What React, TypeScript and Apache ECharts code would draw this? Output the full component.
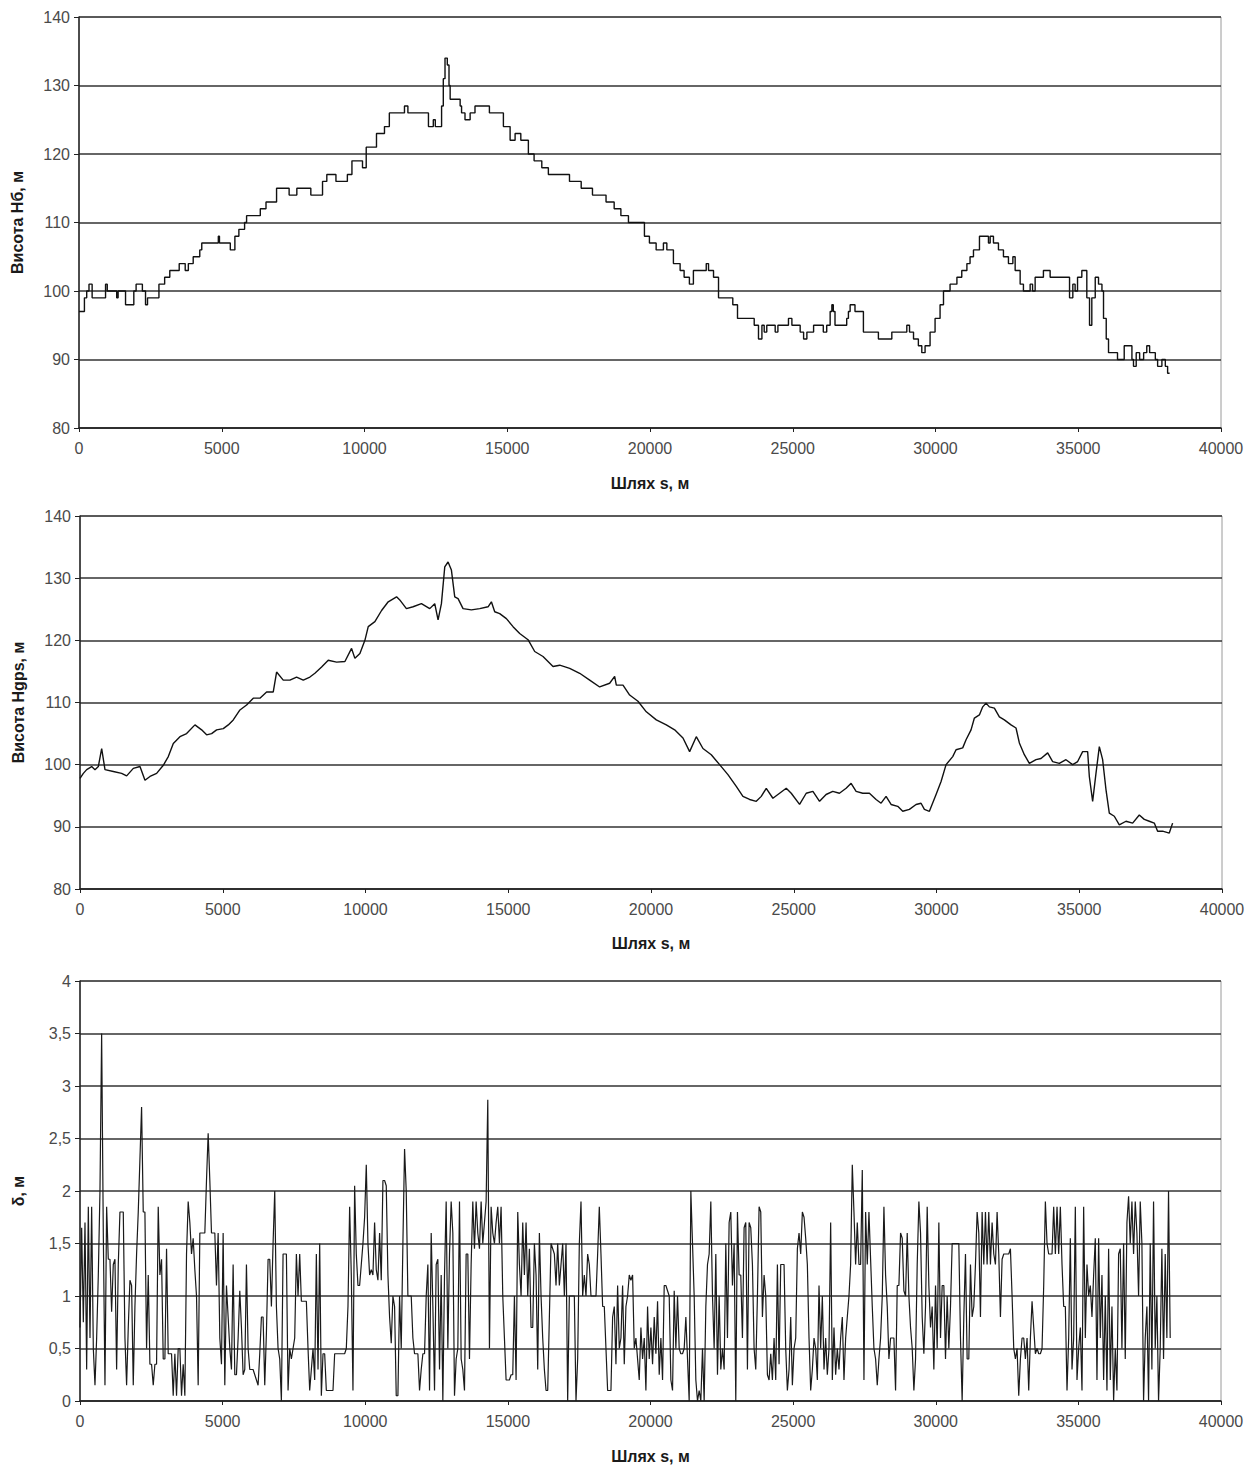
import React, { useEffect, useRef } from "react";
import * as echarts from "echarts";

// ---- Data ----
const distanceTicks = [0, 5000, 10000, 15000, 20000, 25000, 30000, 35000, 40000];

// Height from the map, Нб (m): [distance s, height] — step profile
const hbProfile: [number, number][] = [
  [0, 97], [190, 99], [270, 100], [350, 101], [460, 99], [930, 101], [990, 100], [1320, 99], [1370, 100],
  [1630, 98], [1920, 100], [2000, 101], [2220, 100], [2330, 98], [2400, 99], [2800, 101], [3000, 102],
  [3180, 103], [3510, 104], [3720, 103], [3830, 104], [4000, 105], [4230, 106], [4300, 107], [4880, 108],
  [4920, 107], [5300, 106], [5460, 108], [5600, 109], [5800, 110], [5870, 111], [6350, 112], [6550, 113],
  [6920, 115], [7360, 114], [7630, 115], [8120, 114], [8530, 116], [8680, 117], [9000, 116], [9400, 117],
  [9560, 119], [9930, 118], [10060, 121], [10420, 123], [10700, 124], [10870, 126], [11400, 127], [11520, 126],
  [12240, 124], [12410, 125], [12480, 124], [12700, 127], [12760, 131], [12820, 134], [12900, 133],
  [12960, 130], [13000, 128], [13350, 127], [13400, 126], [13520, 125], [13700, 126], [13870, 127],
  [14375, 126], [14865, 124], [15100, 122], [15275, 123], [15475, 122], [15740, 120], [15940, 119],
  [16210, 118], [16440, 117], [17180, 116], [17590, 115], [17985, 114], [18460, 113], [18745, 112],
  [18980, 111], [19245, 110], [19805, 108], [19980, 107], [20215, 106], [20470, 107], [20590, 106],
  [20820, 104], [21055, 103], [21195, 102], [21380, 101], [21520, 103], [21970, 104], [22050, 103],
  [22225, 102], [22400, 99], [22900, 98], [23065, 96], [23650, 95], [23800, 93], [23920, 95], [24000, 94],
  [24090, 95], [24385, 94], [24480, 95], [24850, 96], [24970, 95], [25260, 94], [25380, 93], [25495, 94],
  [25730, 95], [26070, 94], [26190, 95], [26310, 97], [26370, 98], [26420, 97], [26480, 95], [26890, 96],
  [26950, 97], [27010, 98], [27180, 97], [27475, 94], [28000, 93], [28470, 94], [28995, 95], [29090, 94],
  [29230, 93], [29400, 92], [29520, 91], [29635, 92], [29810, 94], [29985, 96], [30160, 98], [30280, 100],
  [30510, 101], [30750, 102], [30920, 103], [31100, 104], [31210, 105], [31330, 106], [31540, 108],
  [31855, 107], [31915, 108], [32030, 107], [32205, 106], [32380, 105], [32555, 104], [32710, 105],
  [32790, 103], [32965, 101], [33080, 100], [33315, 101], [33400, 100], [33490, 102], [33780, 103],
  [34015, 102], [34695, 99], [34810, 101], [34890, 100], [34975, 102], [35125, 103], [35300, 99],
  [35395, 95], [35475, 99], [35595, 102], [35710, 101], [35830, 100], [35885, 96], [35980, 93], [36060, 91],
  [36375, 90], [36610, 92], [36880, 90], [36935, 89], [37030, 91], [37150, 90], [37290, 91], [37400, 92],
  [37500, 91], [37700, 90], [37780, 89], [37930, 90], [38050, 89], [38130, 88], [38200, 88],
];

// GPS height, Hgps (m): [distance s, height]
const hgpsProfile: [number, number][] = [
  [0, 97.8], [117, 98.6], [234, 99.2], [409, 99.7], [525, 99.2], [642, 99.7], [759, 102.6], [875, 99.2],
  [1167, 98.9], [1459, 98.6], [1634, 98.2], [1867, 99.4], [2101, 99.7], [2276, 97.5], [2451, 98.1],
  [2684, 98.6], [2918, 99.9], [3093, 101.3], [3268, 103.4], [3501, 104.5], [3734, 105.0], [4026, 106.4],
  [4260, 105.6], [4435, 104.8], [4610, 105.0], [4785, 105.6], [5018, 105.8], [5193, 106.4], [5368, 107.2],
  [5602, 108.8], [5835, 109.6], [6069, 110.7], [6302, 110.7], [6536, 111.7], [6769, 111.7], [6886, 114.9],
  [7119, 113.6], [7353, 113.6], [7586, 114.1], [7820, 113.6], [8053, 114.1], [8228, 114.7], [8462, 115.7],
  [8695, 116.8], [8987, 116.5], [9279, 116.6], [9512, 118.7], [9629, 117.1], [9804, 117.9], [9979, 120.0],
  [10096, 122.2], [10329, 123.0], [10563, 124.8], [10796, 126.2], [11088, 127.0], [11200, 126.5],
  [11433, 125.1], [11667, 125.4], [11959, 125.9], [12250, 125.1], [12425, 125.9], [12542, 123.3],
  [12659, 125.9], [12776, 131.8], [12892, 132.6], [13009, 131.3], [13126, 127.0], [13242, 126.7],
  [13417, 125.1], [13709, 124.9], [14001, 125.1], [14293, 125.4], [14409, 126.2], [14526, 124.6],
  [14701, 124.3], [14934, 123.5], [15168, 122.2], [15401, 121.1], [15693, 120.1], [15927, 118.2],
  [16218, 117.4], [16568, 115.8], [16802, 116.0], [17152, 115.5], [17502, 114.7], [17852, 113.6],
  [18202, 112.5], [18552, 113.1], [18727, 114.2], [18785, 112.8], [19019, 112.8], [19252, 111.2],
  [19544, 110.2], [19836, 108.5], [20186, 107.2], [20536, 106.4], [20828, 105.6], [21120, 104.3],
  [21353, 102.1], [21586, 104.5], [21820, 102.6], [22111, 101.6], [22403, 100.0], [22695, 98.4],
  [22987, 96.5], [23220, 94.9], [23454, 94.4], [23687, 94.1], [23862, 94.9], [24037, 96.2], [24270, 94.6],
  [24504, 95.4], [24737, 96.2], [24912, 95.4], [25204, 93.6], [25437, 95.4], [25671, 95.7], [25904, 94.1],
  [26133, 95.2], [26367, 95.7], [26600, 95.4], [26834, 96.2], [27009, 97.0], [27184, 95.7], [27417, 95.4],
  [27651, 95.4], [27884, 94.4], [28059, 93.8], [28234, 94.9], [28409, 93.6], [28642, 93.3], [28818, 92.5],
  [29051, 92.8], [29284, 93.6], [29459, 93.8], [29576, 92.8], [29751, 92.5], [29985, 95.2], [30160, 97.3],
  [30335, 100.0], [30568, 101.3], [30685, 102.4], [30918, 102.7], [31035, 104.0], [31210, 105.6],
  [31327, 107.5], [31502, 108.0], [31619, 109.3], [31735, 109.9], [31852, 109.3], [32027, 109.1],
  [32202, 107.7], [32377, 107.2], [32610, 106.4], [32785, 105.9], [32902, 103.5], [33077, 101.6],
  [33252, 100.2], [33485, 100.8], [33660, 101.0], [33894, 101.9], [34069, 100.5], [34302, 100.2],
  [34536, 100.8], [34769, 100.0], [34944, 100.5], [35119, 102.1], [35294, 102.1], [35353, 98.1],
  [35469, 94.1], [35586, 98.6], [35703, 102.9], [35819, 100.8], [35936, 96.0], [36053, 92.2], [36228, 91.7],
  [36403, 90.3], [36636, 90.9], [36870, 90.6], [37103, 91.9], [37278, 91.2], [37453, 90.9], [37628, 90.6],
  [37745, 89.3], [37920, 89.3], [38153, 89.0], [38270, 90.6],
];

// Deviation δ (m), sampled every deltaSampleStep metres from s = 0
const deltaSampleStep = 58.35;
const deltaValues: number[] = [
  0.7, 1.65, 0.75, 1.7, 0.3, 1.85, 0.6, 1.85, 0.5, 0.15,
  0.6, 1.2, 2.0, 3.5, 1.6, 0.15, 1.85, 1.35, 1.35, 0.85,
  1.3, 1.35, 0.3, 1.3, 1.8, 1.8, 1.8, 0.6, 0.15, 0.7,
  1.15, 1.1, 0.15, 0.9, 1.4, 1.8, 2.3, 2.8, 1.8, 1.8,
  0.5, 1.2, 0.35, 0.35, 0.15, 0.35, 0.35, 1.85, 1.2, 1.35,
  0.4, 0.4, 1.45, 0.45, 0.45, 0.45, 0.05, 0.45, 0.05, 0.5,
  0.5, 0.05, 0.35, 0.05, 1.4, 1.9, 1.7, 1.4, 1.55, 1.25,
  1.0, 0.15, 1.6, 1.6, 1.6, 1.6, 2.1, 2.55, 2.1, 1.6,
  1.6, 1.6, 1.1, 1.6, 0.6, 0.35, 1.6, 0.15, 1.1, 0.8,
  0.5, 0.3, 1.3, 0.25, 0.25, 0.6, 1.05, 0.7, 0.25, 0.3,
  1.3, 0.5, 0.3, 0.3, 0.3, 0.25, 0.2, 0.15, 0.45, 0.8,
  0.8, 0.15, 0.65, 1.35, 1.35, 0.9, 1.5, 2.0, 0.9, 0.5,
  0.4, 0.0, 1.4, 1.4, 1.4, 0.1, 0.5, 0.4, 0.5, 0.6,
  1.4, 1.0, 1.4, 0.95, 0.95, 0.95, 0.95, 0.5, 0.1, 0.3,
  0.5, 0.2, 1.4, 0.3, 1.5, 0.05, 0.45, 0.45, 0.1, 0.1,
  0.1, 0.1, 0.1, 0.45, 0.45, 0.45, 0.45, 0.45, 0.45, 0.45,
  0.5, 0.9, 1.85, 1.2, 0.1, 2.05, 1.4, 1.1, 1.1, 1.3,
  1.5, 1.75, 2.25, 1.5, 1.2, 1.25, 1.2, 1.7, 1.25, 1.15,
  1.6, 1.15, 2.1, 2.1, 2.05, 1.2, 0.8, 0.55, 1.0, 0.9,
  0.05, 0.05,
  1.0, 0.5, 1.5, 2.4, 2.0, 1.0, 1.0, 1.0, 0.6, 0.45,
  0.45, 0.45, 0.1, 0.3, 0.45, 0.45, 1.0, 1.3, 0.1, 1.6,
  0.9, 0.1, 1.3, 1.35, 0.3, 1.2, 0.0, 1.2, 1.9, 0.5,
  1.4, 1.9, 1.6, 0.05, 0.4, 0.5, 1.9, 0.4, 0.3, 0.1,
  1.4, 1.4, 0.4, 1.3, 1.9, 1.45, 1.9, 1.6, 1.45, 1.9,
  1.5, 1.7, 1.9, 2.87, 0.5, 1.85, 1.6, 1.5, 1.7, 1.85,
  1.5, 1.85, 1.0, 0.6, 0.2, 0.2, 0.2, 0.25, 0.25, 1.0,
  0.2, 1.8, 1.3, 1.0, 1.7, 1.2, 1.7, 1.0, 1.45, 0.7,
  0.7, 1.5, 1.2, 0.3, 1.6, 1.0, 0.6, 0.3, 0.1, 0.1,
  0.8, 1.5, 1.45, 1.4, 1.1, 1.5, 1.1, 1.3, 1.5, 1.0,
  1.5, 0.0, 1.0, 1.0, 1.0, 1.0, 0.0, 0.4, 1.5, 1.9,
  1.0, 1.2, 1.0, 1.4, 1.3, 1.0, 1.0, 1.0, 1.0, 1.4,
  1.85, 1.4, 0.9, 0.9, 0.5, 0.1, 0.1, 0.1, 0.8, 0.9,
  0.35, 1.1, 0.5, 0.6, 1.1, 0.35, 0.9, 1.0, 1.2, 1.15,
  1.2, 0.5, 0.6, 0.4, 0.2, 0.7, 0.4, 0.6, 0.1, 0.9,
  0.4, 0.7, 0.35, 0.8, 0.45, 0.95, 0.25, 0.6, 0.2, 1.1,
  1.1, 1.05, 1.0, 0.2, 0.1, 1.05, 0.5, 1.0, 0.5, 0.45,
  0.45, 0.5, 0.8, 0.4, 0.0, 2.0, 1.5, 1.0, 0.2, 0.0,
  0.1, 0.0, 0.5, 0.0, 0.9, 1.3, 1.4, 1.9, 1.0, 0.5,
  1.4, 0.25, 1.0, 0.3, 0.5, 0.3, 1.5, 0.6, 1.7, 1.8,
  1.1, 1.5, 0.0, 1.8, 1.2, 1.2, 0.6, 1.65, 1.7, 0.3,
  1.7, 1.65, 1.3, 0.5, 0.3, 1.0, 1.85, 1.8, 0.8, 1.2,
  1.0, 0.25, 0.2, 0.45, 0.2, 0.6, 0.2, 1.3, 0.35, 1.3,
  1.3, 1.3, 0.5, 0.1, 0.3, 0.8, 0.15, 0.5, 0.6, 1.45,
  1.6, 1.4, 1.8, 1.75, 1.55, 1.3, 0.6, 0.1, 0.3, 0.6,
  0.5, 0.2,
  1.1, 0.5, 1.0, 0.3, 0.6, 0.25, 0.5, 1.7, 0.2, 0.7,
  0.25, 0.5, 0.3, 0.6, 0.8, 0.2, 0.6, 0.8, 1.0, 1.3,
  2.25, 1.8, 1.3, 1.7, 1.3, 1.3, 2.2, 0.2, 1.8, 1.3,
  1.8, 1.35, 0.9, 0.5, 0.4, 0.15, 0.4, 0.6, 1.0, 1.85,
  1.2, 0.9, 0.4, 0.6, 0.6, 0.6, 0.1, 1.1, 1.1, 1.6,
  1.55, 1.05, 1.0, 1.6, 1.0, 0.7, 0.5, 0.1, 0.4, 1.3,
  1.9, 1.6, 0.8, 0.45, 0.9, 1.85, 1.1, 0.7, 0.9, 0.3,
  1.1, 0.5, 1.7, 0.6, 1.1, 1.1, 0.4, 1.0, 0.5, 0.9,
  1.5, 1.5, 1.5, 1.5, 1.5, 0.6, 0.0, 0.8, 1.4, 0.4,
  0.4, 1.3, 0.8, 0.9, 1.3, 1.8, 1.6, 0.8, 1.8, 1.3,
  1.8, 1.3, 1.8, 1.3, 1.7, 1.4, 1.3, 1.8, 1.4, 0.8,
  1.35, 1.4, 1.4, 1.4, 1.4, 1.45, 1.0, 0.5, 0.4, 0.5,
  0.05, 0.4, 0.6, 0.6, 0.4, 0.6, 0.1, 0.6, 0.95, 0.7,
  0.45, 0.5, 0.45, 0.45, 0.5, 1.1, 1.9, 1.5, 1.4, 1.4,
  1.4, 1.85, 1.4, 1.85, 1.4, 1.85, 1.3, 0.9, 0.9, 0.1,
  0.6, 1.55, 0.3, 0.6, 1.85, 0.2, 0.5, 0.7, 0.1, 1.85,
  0.6, 1.3, 1.0, 1.1, 0.8, 1.2, 1.55, 0.2, 1.55, 0.6,
  1.2, 0.2, 1.0, 0.1, 1.45, 0.2, 0.9, 0.0, 0.5, 0.1,
  1.4, 1.45, 0.5, 1.5, 0.4, 1.7, 1.95, 1.5, 1.9, 1.4,
  1.9, 1.6, 1.0, 1.9, 1.5, 0.0, 0.6, 0.9, 0.0, 1.5,
  0.3, 1.9, 0.5, 1.0, 0.0, 0.5, 1.45, 0.4, 1.4, 0.6,
  2.0, 0.6,
];

const heightTicks = [80, 90, 100, 110, 120, 130, 140];
const deltaTicks = [0, 0.5, 1, 1.5, 2, 2.5, 3, 3.5, 4];

const xAxisTitle = "Шлях s, м";
const yTitles = ["Висота Нб, м", "Висота Hgps, м", "δ, м"];

// ---- Styles ----
const FONT = "Liberation Sans, Arial, sans-serif";
const LABEL_COLOR = "#4a4a4a";
const TITLE_COLOR = "#1a1a1a";

function makeXAxis(gridIndex: number, nameGap: number) {
  return {
    type: "value",
    gridIndex,
    min: distanceTicks[0],
    max: distanceTicks[distanceTicks.length - 1],
    interval: distanceTicks[1] - distanceTicks[0],
    name: xAxisTitle,
    nameLocation: "middle",
    nameGap,
    nameTextStyle: { fontFamily: FONT, fontSize: 16, fontWeight: "bold", color: TITLE_COLOR },
    axisLine: { show: true, onZero: false, lineStyle: { color: "#222", width: 1.5 } },
    axisTick: { show: true, length: 4, lineStyle: { color: "#222", width: 1 } },
    axisLabel: {
      margin: 12,
      fontFamily: FONT,
      fontSize: 16,
      color: LABEL_COLOR,
      formatter: (v: number) => String(v),
    },
    splitLine: { show: false },
  };
}

function makeYAxis(gridIndex: number, ticks: number[], name: string, nameGap: number, comma: boolean) {
  return {
    type: "value",
    gridIndex,
    min: ticks[0],
    max: ticks[ticks.length - 1],
    interval: ticks[1] - ticks[0],
    name,
    nameLocation: "middle",
    nameGap,
    nameRotate: 90,
    nameTextStyle: { fontFamily: FONT, fontSize: 16, fontWeight: "bold", color: TITLE_COLOR },
    axisLine: { show: true, lineStyle: { color: "#222", width: 1.5 } },
    axisTick: { show: true, length: 5, lineStyle: { color: "#222", width: 1 } },
    axisLabel: {
      margin: 9,
      fontFamily: FONT,
      fontSize: 16,
      color: LABEL_COLOR,
      formatter: (v: number) => (comma ? String(v).replace(".", ",") : String(v)),
    },
    splitLine: { show: true, lineStyle: { color: "#333", width: 1.5 } },
  };
}

export default function App() {
  const ref = useRef<HTMLDivElement>(null);

  useEffect(() => {
    if (!ref.current) return;
    const chart = echarts.init(ref.current, undefined, { renderer: "svg" });

    const deltaData = deltaValues.map((v, i) => [i * deltaSampleStep, v]);

    chart.setOption({
      animation: false,
      backgroundColor: "#ffffff",
      grid: [
        { left: 79, top: 17, right: 32, height: 411, show: true, borderColor: "#9a9a9a", borderWidth: 1 },
        { left: 80, top: 516, right: 31, height: 373, show: true, borderColor: "#9a9a9a", borderWidth: 1 },
        { left: 80, top: 981, right: 32, height: 420, show: true, borderColor: "#9a9a9a", borderWidth: 1 },
      ],
      xAxis: [makeXAxis(0, 47), makeXAxis(1, 46), makeXAxis(2, 47)],
      yAxis: [
        makeYAxis(0, heightTicks, yTitles[0], 54, false),
        makeYAxis(1, heightTicks, yTitles[1], 54, false),
        makeYAxis(2, deltaTicks, yTitles[2], 54, true),
      ],
      series: [
        {
          type: "line",
          xAxisIndex: 0,
          yAxisIndex: 0,
          step: "end",
          data: hbProfile,
          showSymbol: false,
          lineStyle: { color: "#111", width: 1.4 },
        },
        {
          type: "line",
          xAxisIndex: 1,
          yAxisIndex: 1,
          data: hgpsProfile,
          showSymbol: false,
          lineStyle: { color: "#111", width: 1.4 },
        },
        {
          type: "line",
          xAxisIndex: 2,
          yAxisIndex: 2,
          data: deltaData,
          showSymbol: false,
          lineStyle: { color: "#1a1a1a", width: 1.2 },
        },
      ],
    });

    return () => chart.dispose();
  }, []);

  return (
    <div
      ref={ref}
      style={{ position: "absolute", left: 0, top: 0, width: 1253, height: 1465, background: "#fff" }}
    />
  );
}
